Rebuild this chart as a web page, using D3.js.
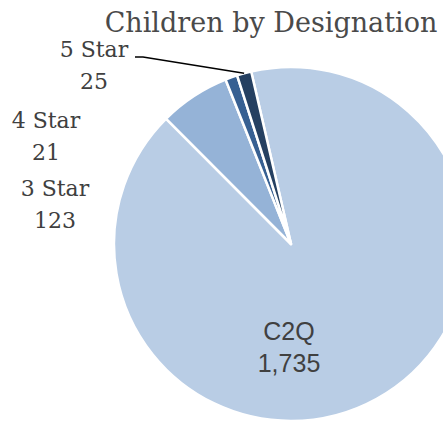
<!DOCTYPE html>
<html>
<head>
<meta charset="utf-8">
<script src="https://cdn.jsdelivr.net/npm/d3@7"></script>
<style>
  body { margin: 0; background: #fff; }
  svg { display: block; }
</style>
</head>
<body>
<div id="chart"></div>
<script>
var width = 443, height = 421;

// data
var categories = ["C2Q", "3 Star", "4 Star", "5 Star"];
var values = [1735, 123, 21, 25];
var colors = ["#b9cde5", "#95b3d7", "#376092", "#254061"];

var cx = 291, cy = 244, radius = 177;
var startAngle = -13 * Math.PI / 180;

var svg = d3.select("#chart")
    .append("svg")
    .attr("width", width)
    .attr("height", height);

var pie = d3.pie()
    .sort(null)
    .startAngle(startAngle)
    .endAngle(startAngle + 2 * Math.PI);

var arc = d3.arc()
    .innerRadius(0)
    .outerRadius(radius);

var arcs = pie(values);

var g = svg.append("g")
    .attr("transform", "translate(" + cx + "," + cy + ")");

g.selectAll("path")
    .data(arcs)
    .enter().append("path")
    .attr("d", arc)
    .attr("fill", function(d, i) { return colors[i]; })
    .attr("stroke", "#fff")
    .attr("stroke-width", 2.5)
    .attr("stroke-linejoin", "round");

// title
svg.append("text")
    .attr("x", 271)
    .attr("y", 32)
    .attr("text-anchor", "middle")
    .attr("font-family", "DejaVu Serif")
    .attr("font-size", 27)
    .attr("fill", "#4a4a4a")
    .text("Children by Designation");

// label positions (relative to pie centre, as Excel places them)
var labelPos = [[-2, 96], [-236, -48], [-245, -116], [-197, -187]];

var labels = svg.selectAll(".lbl")
    .data(arcs)
    .enter().append("text")
    .attr("class", "lbl")
    .attr("text-anchor", "middle")
    .attr("font-family", function(d, i) {
        return i === 0 ? "Liberation Sans, Arial, sans-serif" : "DejaVu Serif";
    })
    .attr("font-size", function(d, i) { return i === 0 ? 25 : 22; })
    .attr("fill", "#404040");

labels.each(function(d, i) {
    var t = d3.select(this);
    var x = cx + labelPos[i][0], y = cy + labelPos[i][1];
    t.append("tspan").attr("x", x).attr("y", y).text(categories[i]);
    t.append("tspan").attr("x", x).attr("y", y + 32).text(d3.format(",")(values[i]));
});

// leader line for 5 Star
var a5 = arcs[3];
var mid5 = (a5.startAngle + a5.endAngle) / 2;
var ex = cx + Math.sin(mid5) * radius, ey = cy - Math.cos(mid5) * radius;
svg.append("polyline")
    .attr("points", [[135, 57], [143, 57], [ex, ey]].map(function(p) { return p.join(","); }).join(" "))
    .attr("fill", "none")
    .attr("stroke", "#000")
    .attr("stroke-width", 1.5);
</script>
</body>
</html>
